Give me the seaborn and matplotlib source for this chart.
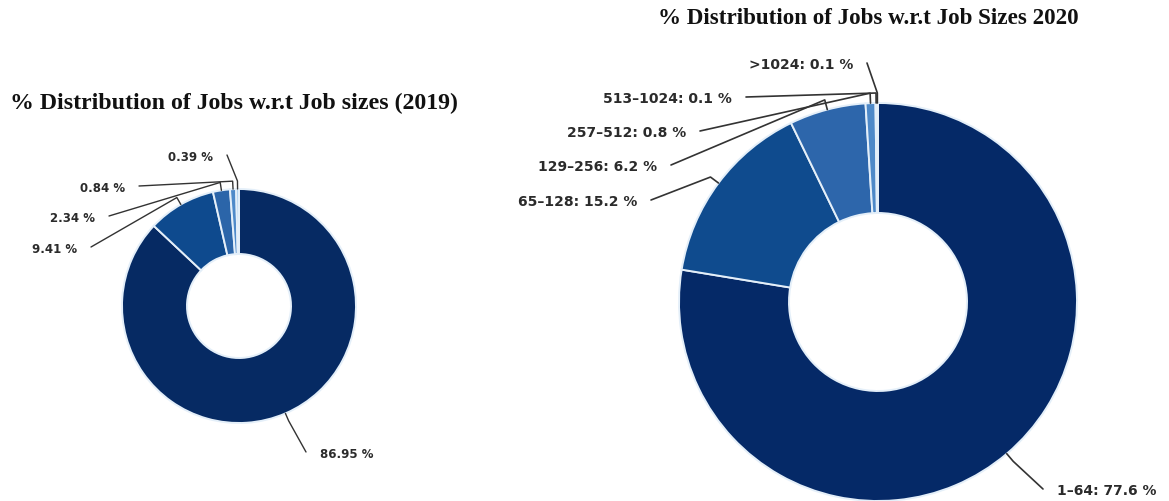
import numpy as np
import matplotlib
matplotlib.use("Agg")
import matplotlib.pyplot as plt
import seaborn as sns

# Job-size shares
sizes_2019 = ["1–64", "65–128", "129–256", "257–512", ">512"]
share_2019 = [86.95, 9.41, 2.34, 0.84, 0.39]

sizes_2020 = ["1–64", "65–128", "129–256", "257–512", "513–1024", ">1024"]
share_2020 = [77.6, 15.2, 6.2, 0.8, 0.1, 0.1]

title_2019 = "% Distribution of Jobs w.r.t Job sizes (2019)"
title_2020 = "% Distribution of Jobs w.r.t Job Sizes 2020"

pal_2019 = sns.color_palette(["#062a63", "#0e4a8e", "#2b65a9", "#4f8ac9", "#a9cdee"])
pal_2020 = sns.color_palette(["#052967", "#0f4b8e", "#2d66ab", "#4e89c8", "#80b1e1", "#b4d6f3"])

sns.set_theme(style="white")
plt.rcParams["font.family"] = ["DejaVu Sans"]

W, H = 1169, 501
fig = plt.figure(figsize=(W / 100, H / 100), dpi=100)
ax = fig.add_axes([0, 0, 1, 1])


def donut(values, colors, cx, cy, R, r_in, label_texts, label_pos, fs, lw, gap, crook):
    """Draw a donut centred at pixel (cx, cy) with leader-line labels."""
    cyd = H - cy
    wedges, _ = ax.pie(values, colors=colors, startangle=90, counterclock=False,
                       radius=R, center=(cx, cyd), frame=True,
                       wedgeprops=dict(width=R - r_in, edgecolor="#e4eff9", linewidth=1.4))
    for w, txt, (lx, ly, side) in zip(wedges, label_texts, label_pos):
        ang = np.deg2rad((w.theta1 + w.theta2) / 2)
        ex, ey = cx + R * np.cos(ang), cyd + R * np.sin(ang)
        bx, by = cx + (R + crook) * np.cos(ang), cyd + (R + crook) * np.sin(ang)
        lyd = H - ly
        if side == "r":
            sx = lx + gap
            ax.text(lx, lyd, txt, ha="right", va="center", fontsize=fs,
                    fontweight="bold", color="#2b2b2b")
        else:
            sx = lx - gap
            ax.text(lx, lyd, txt, ha="left", va="center", fontsize=fs,
                    fontweight="bold", color="#2b2b2b")
        ax.plot([sx, bx, ex], [lyd + 2, by, ey], color="#333333", lw=lw,
                solid_capstyle="round", solid_joinstyle="round")


labels_2019 = [f"{v:.2f} %" for v in share_2019]
pos_2019 = [(320, 454, "l"), (77, 249, "r"), (95, 218, "r"), (125, 188, "r"), (213, 157, "r")]
donut(share_2019, pal_2019, 239, 306, 117, 52, labels_2019, pos_2019,
      fs=8.5, lw=1.0, gap=14, crook=8)

labels_2020 = [f"{s}: {v} %" for s, v in zip(sizes_2020, share_2020)]
pos_2020 = [(1057, 491, "l"), (637, 202, "r"), (657, 167, "r"), (686, 133, "r"),
            (732, 99, "r"), (853, 65, "r")]
donut(share_2020, pal_2020, 878, 302, 199, 89, labels_2020, pos_2020,
      fs=10, lw=1.2, gap=14, crook=10)

ax.text(234, H - 103, title_2019, ha="center", va="center", fontsize=17.2,
        fontweight="bold", family="Liberation Serif", color="#111111")
ax.text(868, H - 18, title_2020, ha="center", va="center", fontsize=16.6,
        fontweight="bold", family="Liberation Serif", color="#111111")

ax.set_xlim(0, W)
ax.set_ylim(0, H)
ax.set_aspect("equal")
ax.axis("off")

fig.savefig("out.png", dpi=100, facecolor="white")
